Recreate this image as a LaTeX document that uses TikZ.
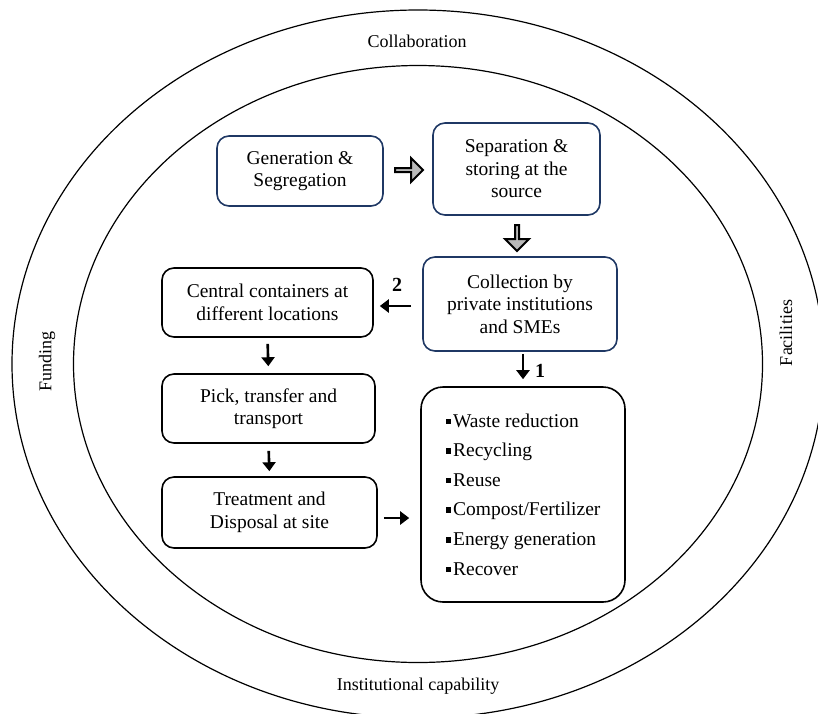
\documentclass[tikz,border=0pt]{standalone}
\usepackage{fontspec}
\setmainfont{Liberation Serif}
\usetikzlibrary{arrows.meta,shapes.arrows,calc}

\definecolor{navy}{RGB}{31,56,100}
\newcommand{\sqbul}{\rule[3pt]{5.5pt}{5.5pt}\hspace{2pt}}

\tikzset{
    stepbox/.style={draw, line width=1.6pt, rounded corners=12pt, align=center,
        inner sep=2pt, font=\fontsize{19.5}{22.5}\selectfont},
    bluebox/.style={stepbox, draw=navy},
    blackbox/.style={stepbox, draw=black},
    flowarrow/.style={line width=2.6pt, -{Triangle[length=9pt,width=13pt]}},
    greyarrow/.style={single arrow, draw=black, fill=gray!55, line width=2pt,
        minimum width=24pt, single arrow head extend=5pt, inner sep=0pt},
    ringlabel/.style={font=\fontsize{18}{21}\selectfont},
    numlabel/.style={font=\fontsize{20}{22}\selectfont\bfseries}
}

\begin{document}
\begin{tikzpicture}[x=1pt,y=-1pt]
    \useasboundingbox (0,0) rectangle (818,713);

    % Define ellipse radii and centre
    \def\cx{418}
    \def\cy{364}
    \def\outerrx{406}
    \def\outerry{354}
    \def\innerrx{344.5}
    \def\innerry{298.5}

    % Draw ellipses
    \draw[line width=1.2pt] (\cx,\cy) ellipse [x radius=\outerrx, y radius=\outerry];
    \draw[line width=1.2pt] (\cx,\cy) ellipse [x radius=\innerrx, y radius=\innerry];

    % Label the rings
    \node[ringlabel] (collab) at (417,41) {Collaboration};
    \node[ringlabel] (inst) at (418,686) {Institutional capability};
    \node[ringlabel, rotate=90] (fund) at (47,361) {Funding};
    \node[ringlabel, rotate=90] (facil) at (786,333) {Facilities};

    % Boxes
    \node[bluebox, minimum width=166pt, minimum height=70pt] (gen) at (300,171) {Generation \&\\Segregation};
    \node[bluebox, minimum width=167pt, minimum height=92pt] (sep) at (516.5,169) {Separation \&\\storing at the\\source};
    \node[bluebox, minimum width=194pt, minimum height=94pt] (coll) at (520,304) {Collection by\\private institutions\\and SMEs};
    \node[blackbox, minimum width=211pt, minimum height=69pt] (cent) at (267.5,302.5) {Central containers at\\different locations};
    \node[blackbox, minimum width=213pt, minimum height=69pt] (pick) at (268.5,408.5) {Pick, transfer and\\transport};
    \node[blackbox, minimum width=215pt, minimum height=71pt] (treat) at (269.5,512.5) {Treatment and\\Disposal at site};
    \node[blackbox, rounded corners=22pt, align=left, minimum width=204pt, minimum height=215pt,
        font=\fontsize{19.5}{29.6}\selectfont] (list) at (523,494.5)
        {\sqbul Waste reduction\\\sqbul Recycling\\\sqbul Reuse\\\sqbul Compost/Fertilizer\\\sqbul Energy generation\\\sqbul Recover};

    % Grey block arrows
    \node[greyarrow, minimum height=28pt] (ga) at ($(gen.east)!0.5!(sep.west)$) {};
    \node[greyarrow, minimum height=26pt, shape border rotate=270] (gb) at (517,237) {};

    % Flow arrows
    \draw[flowarrow, shorten <=11pt, shorten >=6pt] (coll.west |- 0,306) -- (cent.east |- 0,306);
    \draw[flowarrow, shorten <=2pt, shorten >=7pt] (coll.south -| 523,0) -- (list.north -| 523,0);
    \draw[flowarrow, shorten <=6pt, shorten >=7pt] (cent.south) -- (pick.north);
    \draw[flowarrow, shorten <=7pt, shorten >=5pt] (pick.south) -- (treat.north);
    \draw[flowarrow, shorten <=6pt, shorten >=11pt] (treat.east |- 0,518) -- (list.west |- 0,518);

    % Path numbers
    \node[numlabel] (two) at (397,285) {2};
    \node[numlabel] (one) at (540,371) {1};
\end{tikzpicture}
\end{document}
